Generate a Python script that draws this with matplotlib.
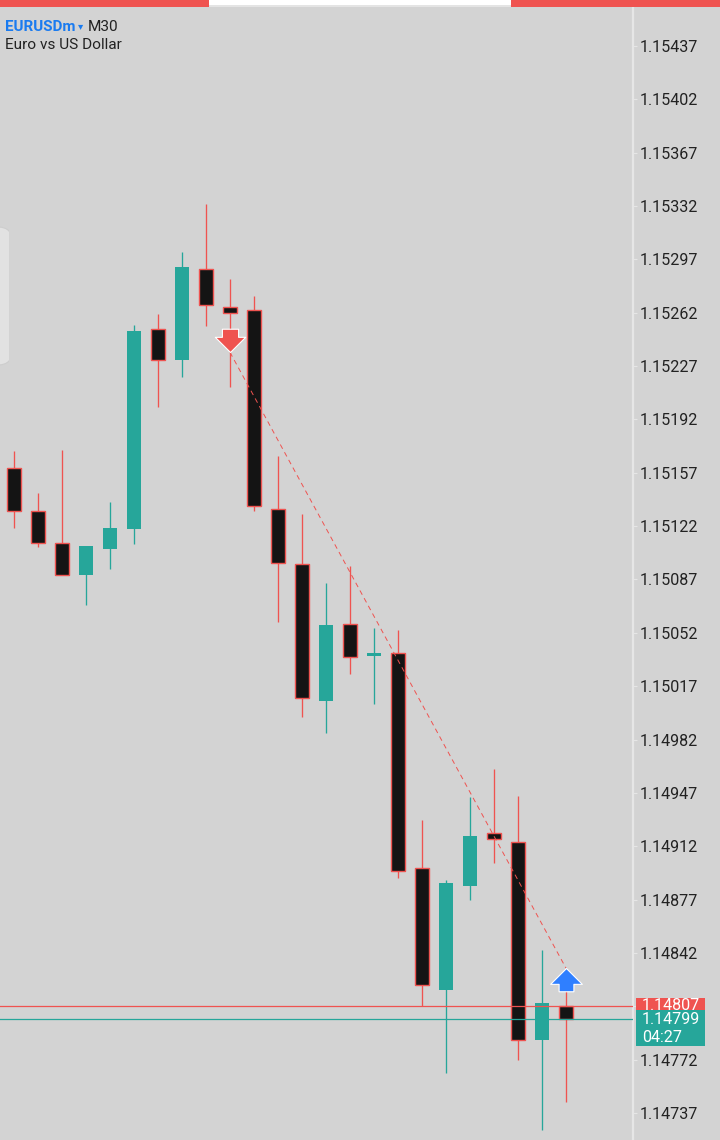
import matplotlib
matplotlib.use('Agg')
import matplotlib.pyplot as plt
from matplotlib.patches import Rectangle, FancyBboxPatch
from matplotlib.path import Path

plt.rcParams['font.family'] = ['Roboto', 'DejaVu Sans']

# candles, oldest first
opens = [1.15160, 1.15132, 1.15111, 1.15090, 1.15107, 1.15120, 1.15251, 1.15231,
         1.15291, 1.15266, 1.15264, 1.15133, 1.15097, 1.15007, 1.15058, 1.15037,
         1.15039, 1.14898, 1.14818, 1.14886, 1.14921, 1.14915, 1.14785, 1.14807]
highs = [1.15171, 1.15144, 1.15172, 1.15109, 1.15138, 1.15254, 1.15261, 1.15302,
         1.15333, 1.15284, 1.15273, 1.15168, 1.15130, 1.15085, 1.15096, 1.15055,
         1.15054, 1.14929, 1.14890, 1.14944, 1.14963, 1.14945, 1.14844, 1.14818]
lows = [1.15121, 1.15108, 1.15090, 1.15070, 1.15094, 1.15110, 1.15200, 1.15220,
        1.15253, 1.15213, 1.15132, 1.15059, 1.14997, 1.14986, 1.15025, 1.15005,
        1.14891, 1.14807, 1.14763, 1.14877, 1.14901, 1.14772, 1.14726, 1.14744]
closes = [1.15132, 1.15111, 1.15090, 1.15109, 1.15121, 1.15250, 1.15231, 1.15292,
          1.15267, 1.15262, 1.15135, 1.15098, 1.15009, 1.15057, 1.15036, 1.15039,
          1.14896, 1.14821, 1.14888, 1.14919, 1.14917, 1.14785, 1.14809, 1.14799]

price_ticks = [1.15437, 1.15402, 1.15367, 1.15332, 1.15297, 1.15262, 1.15227, 1.15192,
               1.15157, 1.15122, 1.15087, 1.15052, 1.15017, 1.14982, 1.14947, 1.14912,
               1.14877, 1.14842, 1.14807, 1.14772, 1.14737]
ask = 1.14807
bid = 1.14799
countdown = '04:27'
trade_x = [9, 23]
trade_price = [1.15236, 1.14832]

BG = '#d3d3d3'
RED = '#ef5350'
TEAL = '#26a69a'
BLACK = '#141414'
BLUE = '#2f7fff'
TEXT = '#222222'

fig = plt.figure(figsize=(7.2, 11.4), dpi=100, facecolor=BG)

# chart area, pixels 0-632 across and 8-1140 down
ax = fig.add_axes([0, 0, 633 / 720, 1 - 8 / 1140], facecolor=BG)
ax.set_xlim(-0.583, 25.79)
ax.set_ylim(1.147193, 1.154619)

for i in range(len(opens)):
    up = closes[i] >= opens[i]
    col = TEAL if up else RED
    ax.vlines(i, lows[i], highs[i], color=col, linewidth=0.95, zorder=2)
    bottom = min(opens[i], closes[i])
    height = abs(closes[i] - opens[i])
    if up:
        ax.bar(i, height, 0.62, bottom=bottom, color=TEAL, linewidth=0, zorder=3)
    else:
        ax.bar(i, height, 0.56, bottom=bottom, color=BLACK, edgecolor=RED, linewidth=1.0, zorder=3)

ax.axhline(ask, color=RED, linewidth=0.9, zorder=4)
ax.axhline(bid, color=TEAL, linewidth=0.9, zorder=4)

ax.plot(trade_x, trade_price, color=RED, linewidth=0.7, linestyle=(0, (5, 4)), zorder=5)

# arrow markers, tip sits on the trade price
down_arrow = Path([(0, 0), (-15, 15), (-8, 15), (-8, 23), (8, 23), (8, 15), (15, 15), (0, 0),
                   (0, -23)],
                  [1, 2, 2, 2, 2, 2, 2, 79, 1])
up_arrow = Path([(0, 0), (-15, -15), (-7, -15), (-7, -22), (7, -22), (7, -15), (15, -15), (0, 0),
                 (0, 22)],
                [1, 2, 2, 2, 2, 2, 2, 79, 1])
ax.plot(trade_x[0], trade_price[0], marker=down_arrow, markersize=33.5, color=RED,
        markeredgecolor='white', markeredgewidth=0.8, zorder=6)
ax.plot(trade_x[1], trade_price[1], marker=up_arrow, markersize=33.5, color=BLUE,
        markeredgecolor='white', markeredgewidth=0.8, zorder=6)

ax.xaxis.set_visible(False)
ax.yaxis.tick_right()
ax.set_yticks(price_ticks)
# the 1.14807 tick label sits under the ask tag, the tag carries the text
ax.set_yticklabels(['' if p == ask else '%.5f' % p for p in price_ticks], fontsize=11.6, color=TEXT)
ax.tick_params(axis='y', length=3, width=0.8, color='#e6e6e6', pad=1.5)
for name in ['top', 'left', 'bottom']:
    ax.spines[name].set_visible(False)
ax.spines['right'].set_color('#e6e6e6')
ax.spines['right'].set_linewidth(1.6)

# window furniture and price tags, in pixels
over = fig.add_axes([0, 0, 1, 1], facecolor='none')
over.set_xlim(0, 720)
over.set_ylim(1140, 0)
over.axis('off')

over.add_patch(Rectangle((209, 0), 302, 5, color='white', linewidth=0))
over.add_patch(Rectangle((209, 5), 302, 2, color='#e4e4e4', linewidth=0))
over.add_patch(Rectangle((0, 0), 209, 7, color=RED, linewidth=0))
over.add_patch(Rectangle((511, 0), 209, 7, color=RED, linewidth=0))

over.add_patch(FancyBboxPatch((-20, 239), 20, 114, boxstyle='round,pad=12,rounding_size=14',
                              facecolor='#e2e2e2', edgecolor='#cdcdcd', linewidth=0.8,
                              mutation_aspect=1))
# tab sticks out 8px from the left edge
over.add_patch(Rectangle((9, 220), 6, 150, color=BG, linewidth=0))

over.text(5, 27, 'EURUSDm', fontsize=10.9, fontweight='bold', color='#1a7bf0', va='center')
over.text(78, 26, '▾', fontsize=7.5, color='#1a7bf0', va='center', family=['DejaVu Sans'])
over.text(88, 27, 'M30', fontsize=11.1, color=TEXT, va='center')
over.text(5, 45, 'Euro vs US Dollar', fontsize=11.1, color=TEXT, va='center')

over.add_patch(Rectangle((636, 998), 69, 16, color=RED, linewidth=0, zorder=2))
over.text(642, 1006, '%.5f' % ask, fontsize=11.6, color='white', va='center', zorder=3)
over.add_patch(Rectangle((636, 1010), 69, 36, color=TEAL, linewidth=0, zorder=4))
over.text(642, 1019, '%.5f' % bid, fontsize=11.6, color='white', va='center', zorder=5)
over.text(642, 1037, countdown, fontsize=11.6, color='white', va='center', zorder=5)

fig.savefig('out.png', dpi=100, facecolor=BG)
